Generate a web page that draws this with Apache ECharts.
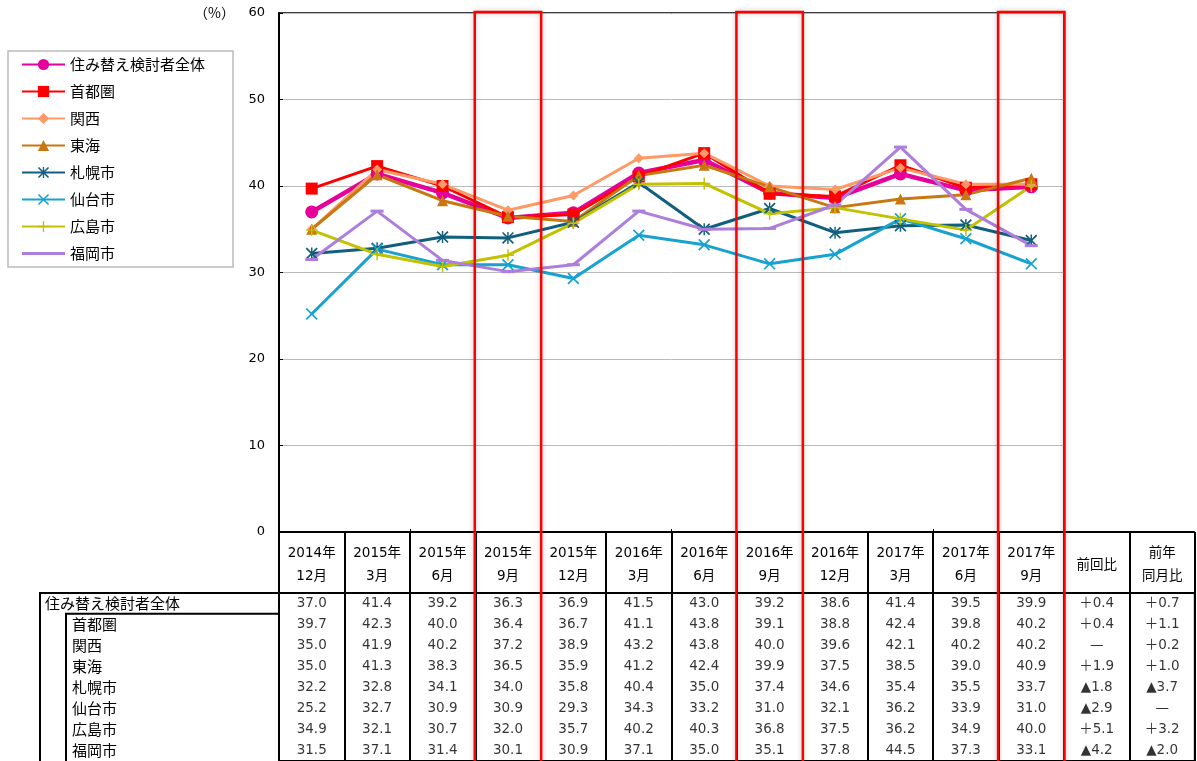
<!DOCTYPE html>
<html><head><meta charset="utf-8">
<script src="https://cdn.jsdelivr.net/npm/echarts@6/dist/echarts.min.js"></script>
<style>html,body{margin:0;padding:0;background:#fff;}#c{width:1197px;height:761px;}</style>
</head><body><div id="c"></div>
<script>
const years = ['2014年','2015年','2015年','2015年','2015年','2016年','2016年','2016年','2016年','2017年','2017年','2017年'];
const months = ['12月','3月','6月','9月','12月','3月','6月','9月','12月','3月','6月','9月'];
const extraHeaders = ['前回比', '前年\n同月比'];
const highlightCols = [3, 7, 11];
const yTicks = [0, 10, 20, 30, 40, 50, 60];

const seriesNames = ['住み替え検討者全体','首都圏','関西','東海','札幌市','仙台市','広島市','福岡市'];
const total    = [37.0, 41.4, 39.2, 36.3, 36.9, 41.5, 43.0, 39.2, 38.6, 41.4, 39.5, 39.9];
const shutoken = [39.7, 42.3, 40.0, 36.4, 36.7, 41.1, 43.8, 39.1, 38.8, 42.4, 39.8, 40.2];
const kansai   = [35.0, 41.9, 40.2, 37.2, 38.9, 43.2, 43.8, 40.0, 39.6, 42.1, 40.2, 40.2];
const tokai    = [35.0, 41.3, 38.3, 36.5, 35.9, 41.2, 42.4, 39.9, 37.5, 38.5, 39.0, 40.9];
const sapporo  = [32.2, 32.8, 34.1, 34.0, 35.8, 40.4, 35.0, 37.4, 34.6, 35.4, 35.5, 33.7];
const sendai   = [25.2, 32.7, 30.9, 30.9, 29.3, 34.3, 33.2, 31.0, 32.1, 36.2, 33.9, 31.0];
const hiroshima= [34.9, 32.1, 30.7, 32.0, 35.7, 40.2, 40.3, 36.8, 37.5, 36.2, 34.9, 40.0];
const fukuoka  = [31.5, 37.1, 31.4, 30.1, 30.9, 37.1, 35.0, 35.1, 37.8, 44.5, 37.3, 33.1];
const changePrev = ['＋0.4','＋0.4','—','＋1.9','▲1.8','▲2.9','＋5.1','▲4.2'];
const changeYoY  = ['＋0.7','＋1.1','＋0.2','＋1.0','▲3.7','—','＋3.2','▲2.0'];

const allValues = [total, shutoken, kansai, tokai, sapporo, sendai, hiroshima, fukuoka];
const colors = ['#E6009B','#FF0000','#FF9966','#C8780F','#125F7D','#17A2D0','#C2C200','#AD7EDB'];
const xPath = 'path://M0,1L1,0L10,9L9,10Z M9,0L10,1L1,10L0,9Z';
const plusPath = 'path://M4.4,0L5.6,0L5.6,10L4.4,10Z M0,4.4L10,4.4L10,5.6L0,5.6Z';
const starPath = 'path://M0,1L1,0L10,9L9,10Z M9,0L10,1L1,10L0,9Z M4.4,0L5.6,0L5.6,10L4.4,10Z';
const dashPath = 'path://M0,0L13,0L13,3L0,3Z';
const legendLinePath = 'path://M0,0L0.01,0L0,0.01Z M0,5.5L43,5.5L43,8.5L0,8.5Z M0,14L0.01,14L0,13.99Z';
const symbols = ['circle','rect','diamond','triangle',starPath,xPath,plusPath,dashPath];
const symbolSizes = [13, 12, 10, 11, 12, 12, 12, 13];
const lineWidths = [4.5, 3, 3, 3, 3, 3, 3, 3];

const FONT = '"DejaVu Sans", "Noto Sans CJK JP", sans-serif';
const JFONT = '"Noto Sans CJK JP", sans-serif';

const G0 = {left: 279, top: 13, width: 785, height: 519};
const colW = G0.width / 12;
const G1 = {left: 279, top: 593, width: colW * 14, height: 171};

const categories = years.map((y, i) => y + months[i]);
const headers = years.map((y, i) => y + '\n' + months[i]).concat(extraHeaders);

const lineSeries = seriesNames.map((name, i) => ({
  name: name, type: 'line', xAxisIndex: 0, yAxisIndex: 0,
  data: allValues[i],
  symbol: symbols[i], symbolSize: symbolSizes[i], symbolKeepAspect: true,
  showAllSymbol: true,
  lineStyle: {color: colors[i], width: lineWidths[i]},
  itemStyle: {color: colors[i], borderWidth: 0},
  emphasis: {disabled: true}, z: 3
}));

const cellData = [];
allValues.forEach((row, r) => {
  row.forEach((v, c) => cellData.push([c, r, v.toFixed(1)]));
  cellData.push([12, r, changePrev[r]]);
  cellData.push([13, r, changeYoY[r]]);
});

const legendData = seriesNames.map((n, i) => i === 7 ? {name: n, icon: legendLinePath} : {name: n});

const option = {
  animation: false,
  backgroundColor: '#fff',
  textStyle: {fontFamily: FONT, color: '#000'},
  grid: [
    Object.assign({show: true, borderColor: '#000', borderWidth: 1.5, containLabel: false}, G0),
    Object.assign({show: true, borderColor: '#000', borderWidth: 2, containLabel: false}, G1)
  ],
  legend: {
    data: legendData, orient: 'vertical', left: 8, top: 51,
    itemWidth: 43, itemHeight: 14, itemGap: 12,
    padding: [6, 28, 6, 13],
    borderColor: '#BBBBBB', borderWidth: 1.5, backgroundColor: '#fff',
    textStyle: {fontFamily: JFONT, fontSize: 15, color: '#000'},
    selectedMode: false
  },
  xAxis: [
    {type: 'category', gridIndex: 0, data: categories, boundaryGap: true,
     axisLine: {show: true, lineStyle: {color: '#000', width: 2}},
     axisTick: {show: true, inside: true, length: 3, lineStyle: {color: '#000'}},
     axisLabel: {show: false}, splitLine: {show: false}},
    {type: 'category', gridIndex: 1, data: headers, position: 'top', boundaryGap: true,
     axisLine: {show: true, lineStyle: {color: '#000', width: 2}},
     axisTick: {show: true, length: 61, interval: 0, lineStyle: {color: '#000', width: 2}},
     axisLabel: {show: true, interval: 0, margin: 28, verticalAlign: 'middle', lineHeight: 23,
                 fontSize: 13.5, fontFamily: FONT, color: '#000'},
     splitLine: {show: true, interval: 0, lineStyle: {color: '#000', width: 2}}}
  ],
  yAxis: [
    {type: 'value', gridIndex: 0, min: yTicks[0], max: yTicks[yTicks.length - 1], interval: 10,
     name: '（%）', nameLocation: 'end', nameGap: 0,
     nameTextStyle: {align: 'right', verticalAlign: 'middle', padding: [0, 44, 0, 0], fontSize: 14, fontFamily: JFONT, color: '#000'},
     axisLine: {show: true, lineStyle: {color: '#000', width: 2}},
     axisTick: {show: true, inside: true, length: 4, lineStyle: {color: '#000'}},
     axisLabel: {margin: 14, fontSize: 13, color: '#000', fontFamily: FONT},
     splitLine: {show: true, lineStyle: {color: '#BBBBBB', width: 1}}},
    {type: 'category', gridIndex: 1, data: seriesNames, inverse: true, boundaryGap: true,
     axisLine: {show: false}, axisTick: {show: false},
     axisLabel: {show: true, interval: 0, margin: 234, align: 'left',
       formatter: (v, i) => i === 0 ? '{a|' + v + '}' : '{b|' + v + '}',
       rich: {a: {fontSize: 15, fontFamily: JFONT, color: '#000'},
              b: {fontSize: 15, fontFamily: JFONT, color: '#000', padding: [0, 0, 0, 27]}}},
     splitLine: {show: true, interval: (i) => i === 1, lineStyle: {color: '#000', width: 2}}}
  ],
  series: lineSeries.concat([{
    name: 'table', type: 'scatter', xAxisIndex: 1, yAxisIndex: 1,
    data: cellData, symbolSize: 1, silent: true,
    itemStyle: {color: 'rgba(0,0,0,0)'},
    label: {show: true, position: 'inside', formatter: p => p.value[2],
            fontSize: 13.5, fontFamily: FONT, color: '#000'}
  }])
};

const chart = echarts.init(document.getElementById('c'), null, {renderer: 'canvas'});
chart.setOption(option);

// table frame decorations & highlight boxes, positioned from the axes
const band = colW;
const graphics = [];
const xr = chart.convertToPixel({xAxisIndex: 1}, 12) - band / 2;
const xEnd = chart.convertToPixel({xAxisIndex: 1}, 13) + band / 2;
graphics.push({type: 'line', shape: {x1: xr, y1: G0.top + G0.height, x2: xEnd, y2: G0.top + G0.height}, style: {stroke: '#000', lineWidth: 2}});
const row1Top = chart.convertToPixel({yAxisIndex: 1}, 1) - G1.height / 16;
graphics.push({type: 'polyline', shape: {points: [[G1.left, G1.top], [40, G1.top], [40, 770]]}, style: {stroke: '#000', lineWidth: 2, fill: null}});
graphics.push({type: 'polyline', shape: {points: [[G1.left, row1Top], [66, row1Top], [66, 770]]}, style: {stroke: '#000', lineWidth: 2, fill: null}});
highlightCols.forEach(ci => {
  const cx = chart.convertToPixel({xAxisIndex: 0}, ci);
  graphics.push({type: 'rect', z: 100,
    shape: {x: cx - band / 2 - 0.5, y: G0.top - 1, width: band + 1, height: 780},
    style: {stroke: '#FF0000', lineWidth: 2.5, fill: null, shadowBlur: 5, shadowColor: 'rgba(0,0,0,0.25)'}});
});
chart.setOption({graphic: graphics});
</script>
</body></html>
